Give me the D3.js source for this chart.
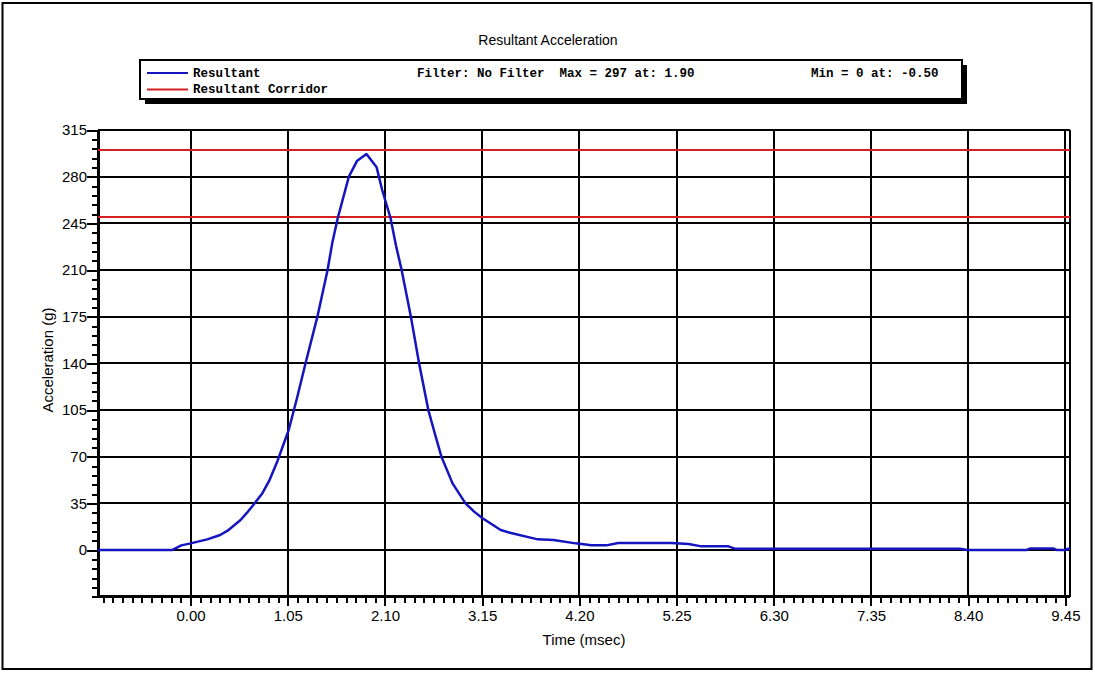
<!DOCTYPE html>
<html>
<head>
<meta charset="utf-8">
<script src="https://cdn.jsdelivr.net/npm/d3@7"></script>
<style>
  body { margin: 0; background: #fff; }
  svg { display: block; }
  .tick text { font-family: Arial, "Liberation Sans", sans-serif; font-size: 15px; fill: #000; }
  .tick line, .domain, .grid line { shape-rendering: crispEdges; }
  .legend text { font-family: "Courier New", "Liberation Mono", monospace; font-size: 12.5px; font-weight: bold; fill: #000; }
</style>
</head>
<body>
<svg id="chart" width="1095" height="673"></svg>
<script>
// time (msec) and resultant acceleration (g)
const time = [-1.00, -0.20, -0.10, 0.00, 0.18, 0.32, 0.40, 0.54, 0.61, 0.68, 0.77, 0.85, 0.94, 1.06,
  1.15, 1.24, 1.37, 1.48, 1.53, 1.59, 1.71, 1.80, 1.90, 2.01, 2.07, 2.16, 2.22, 2.28, 2.38,
  2.47, 2.57, 2.64, 2.71, 2.83, 2.97, 3.06, 3.15, 3.35, 3.45, 3.75, 3.92, 4.16, 4.33, 4.49,
  4.62, 5.19, 5.38, 5.52, 5.81, 5.88, 8.31, 8.39, 9.03, 9.07, 9.32, 9.36, 9.45, 9.48, 9.50];
const accel = [0, 0, 3.5, 5, 8, 11.25, 14.5, 22.5, 28, 34, 42, 52, 67, 90,
  114, 139.5, 175, 210, 230, 249, 280, 292, 297, 287, 270, 249, 228, 210, 175,
  139.5, 104.5, 87, 70, 50, 35, 29, 24, 15, 13, 8, 7.5, 5, 3.5, 3.5,
  5.25, 5.25, 4.5, 2.75, 2.75, 1, 1, 0, 0, 1.2, 1.2, 0, 0, 1, 1];
const corridor = [250, 300];
const xTicks = [0.00, 1.05, 2.10, 3.15, 4.20, 5.25, 6.30, 7.35, 8.40, 9.45];
const yTicks = [0, 35, 70, 105, 140, 175, 210, 245, 280, 315];
const legendNames = ["Resultant", "Resultant Corridor"];
const legendInfo = ["Filter: No Filter  Max = 297 at: 1.90", "Min = 0 at: -0.50"];

const svg = d3.select("#chart");
const pLeft = 98, pRight = 1070, pTop = 130, pBottom = 596.7;

const x = d3.scaleLinear().domain([-1, 9.5]).range([pLeft, pRight]);
const y = d3.scaleLinear().domain([-35, 315]).range([pBottom, pTop]);

// outer frame
svg.append("rect").attr("x", 2.5).attr("y", 3).attr("width", 1089).attr("height", 666)
  .attr("fill", "none").attr("stroke", "#000").attr("stroke-width", 2);

// title
svg.append("text").attr("x", 548).attr("y", 45).attr("text-anchor", "middle")
  .style("font-family", "Arial, 'Liberation Sans', sans-serif").style("font-size", "14px")
  .text("Resultant Acceleration");

// legend box with shadow
const lg = svg.append("g").attr("class", "legend");
lg.append("rect").attr("x", 145).attr("y", 65).attr("width", 822).attr("height", 39).attr("fill", "#000");
lg.append("rect").attr("x", 140).attr("y", 60).attr("width", 822).attr("height", 39)
  .attr("fill", "#fff").attr("stroke", "#000").attr("stroke-width", 2);
const legendColors = ["#1414c0", "#d42020"];
legendNames.forEach((n, i) => {
  const yy = 73 + i * 16.5;
  lg.append("line").attr("x1", 147).attr("x2", 188).attr("y1", yy).attr("y2", yy)
    .attr("stroke", legendColors[i]).attr("stroke-width", 2);
  lg.append("text").attr("x", 193).attr("y", yy + 3.5).text(n);
});
lg.append("text").attr("x", 417).attr("y", 76.5).style("white-space", "pre").text(legendInfo[0]);
lg.append("text").attr("x", 811).attr("y", 76.5).style("white-space", "pre").text(legendInfo[1]);

// grid
const grid = svg.append("g").attr("class", "grid");
grid.selectAll(".vg").data(xTicks).join("line")
  .attr("x1", d => x(d)).attr("x2", d => x(d)).attr("y1", pTop).attr("y2", pBottom)
  .attr("stroke", "#000").attr("stroke-width", 2);
grid.selectAll(".hg").data(yTicks).join("line")
  .attr("x1", pLeft).attr("x2", pRight).attr("y1", d => y(d)).attr("y2", d => y(d))
  .attr("stroke", "#000").attr("stroke-width", 2);
// right border
grid.append("line").attr("x1", pRight).attr("x2", pRight).attr("y1", pTop).attr("y2", pBottom)
  .attr("stroke", "#000").attr("stroke-width", 2);

// minor ticks
const xMinor = d3.range(-9, 91).map(i => i * 0.105);
const yMinor = d3.range(-5, 46).map(i => i * 7);
svg.append("g").attr("transform", `translate(0,${pBottom})`)
  .call(d3.axisBottom(x).tickValues(xMinor).tickSize(6).tickFormat(""))
  .call(g => g.select(".domain").remove())
  .call(g => g.selectAll("line").attr("stroke-width", 2));
svg.append("g").attr("transform", `translate(${pLeft},0)`)
  .call(d3.axisLeft(y).tickValues(yMinor).tickSize(6).tickFormat(""))
  .call(g => g.select(".domain").remove())
  .call(g => g.selectAll("line").attr("stroke-width", 2));

// major axes
svg.append("g").attr("transform", `translate(0,${pBottom})`)
  .call(d3.axisBottom(x).tickValues(xTicks).tickSize(9).tickPadding(5).tickFormat(d3.format(".2f")))
  .call(g => g.select(".domain").attr("stroke-width", 3).attr("d", `M${pLeft},0H${pRight}`))
  .call(g => g.selectAll(".tick line").attr("stroke-width", 2));
svg.append("g").attr("transform", `translate(${pLeft},0)`)
  .call(d3.axisLeft(y).tickValues(yTicks).tickSize(11).tickPadding(0).tickFormat(d3.format("d")))
  .call(g => g.select(".domain").attr("stroke-width", 3).attr("d", `M0,${pBottom}V${pTop}`))
  .call(g => g.selectAll(".tick line").attr("stroke-width", 2));

// axis titles
svg.append("text").attr("x", 584).attr("y", 645).attr("text-anchor", "middle")
  .style("font-family", "Arial, 'Liberation Sans', sans-serif").style("font-size", "15px")
  .text("Time (msec)");
svg.append("text").attr("transform", "translate(53,360) rotate(-90)").attr("text-anchor", "middle")
  .style("font-family", "Arial, 'Liberation Sans', sans-serif").style("font-size", "15px")
  .text("Acceleration (g)");

// data
svg.append("clipPath").attr("id", "clip").append("rect")
  .attr("x", pLeft).attr("y", pTop - 2).attr("width", pRight - pLeft).attr("height", pBottom - pTop + 2);
const plot = svg.append("g").attr("clip-path", "url(#clip)");
plot.selectAll(".corr").data(corridor).join("line")
  .attr("x1", pLeft).attr("x2", pRight).attr("y1", d => y(d)).attr("y2", d => y(d))
  .attr("stroke", "#d42020").attr("stroke-width", 2).style("shape-rendering", "crispEdges");
const line = d3.line().x((d, i) => x(time[i])).y(d => y(d));
plot.append("path").datum(accel).attr("d", line)
  .attr("fill", "none").attr("stroke", "#1414c0").attr("stroke-width", 2.5).attr("stroke-linejoin", "round");
</script>
</body>
</html>
